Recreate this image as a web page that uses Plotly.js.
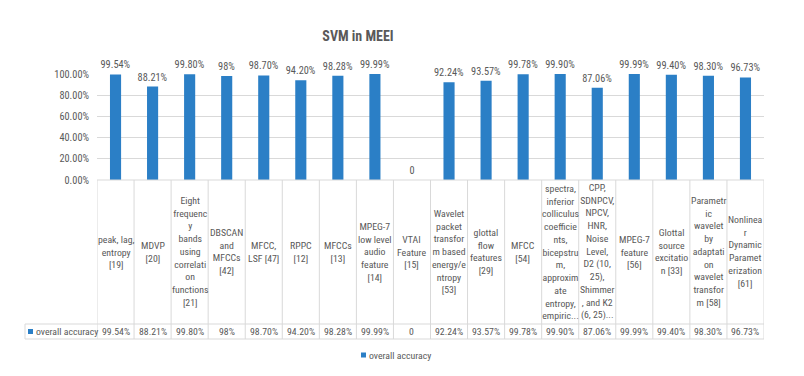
<!DOCTYPE html>
<html>
<head>
<meta charset="utf-8">
<script src="https://cdn.plot.ly/plotly-3.0.1.min.js"></script>
<style>html,body{margin:0;padding:0;background:#fff;}#chart{width:804px;height:376px;}</style>
</head>
<body>
<div id="chart"></div>
<script>
const categories = [
  'peak, lag,<br>entropy<br>[19]',
  'MDVP<br>[20]',
  'Eight<br>frequenc<br>y<br>bands<br>using<br>correlati<br>on<br>functions<br>[21]',
  'DBSCAN<br>and<br>MFCCs<br>[42]',
  'MFCC,<br>LSF [47]',
  'RPPC<br>[12]',
  'MFCCs<br>[13]',
  'MPEG-7<br>low level<br>audio<br>feature<br>[14]',
  'VTAI<br>Feature<br>[15]',
  'Wavelet<br>packet<br>transfor<br>m based<br>energy/e<br>ntropy<br>[53]',
  'glottal<br>flow<br>features<br>[29]',
  'MFCC<br>[54]',
  'spectra,<br>inferior<br>colliculus<br>coefficie<br>nts,<br>bicepstru<br>m,<br>approxim<br>ate<br>entropy,<br>empiric...',
  'CPP,<br>SDNPCV,<br>NPCV,<br>HNR,<br>Noise<br>Level,<br>D2 (10,<br>25),<br>Shimmer<br>, and K2<br>(6, 25)...',
  'MPEG-7<br>feature<br>[56]',
  'Glottal<br>source<br>excitatio<br>n [33]',
  'Parametr<br>ic<br>wavelet<br>by<br>adaptati<br>on<br>wavelet<br>transfor<br>m [58]',
  'Nonlinea<br>r<br>Dynamic<br>Paramet<br>erization<br>[61]'
];
const accuracy = [0.9954, 0.8821, 0.9980, 0.98, 0.9870, 0.9420, 0.9828, 0.9999, 0, 0.9224, 0.9357, 0.9978, 0.9990, 0.8706, 0.9999, 0.9940, 0.9830, 0.9673];
const valueLabels = ['99.54%','88.21%','99.80%','98%','98.70%','94.20%','98.28%','99.99%','0','92.24%','93.57%','99.78%','99.90%','87.06%','99.99%','99.40%','98.30%','96.73%'];
const seriesName = 'overall accuracy';
const chartTitle = 'SVM in MEEI';
const yTickVals = [0, 0.2, 0.4, 0.6, 0.8, 1.0];

const FONT = 'Roboto Condensed, Roboto, sans-serif';
const GRAY = '#595959';
const LINE = '#d9d9d9';
const BLUE = '#2B7FC6';

// layout geometry (pixels)
const W = 804, HT = 376;
const M = {l: 97, r: 40, t: 74, b: 196};
const H = HT - M.t - M.b;
const PW = W - M.l - M.r;
const plotBottom = HT - M.b;
const py = p => (plotBottom - p) / H;   // pixel y -> paper y
const pxX = p => (p - M.l) / PW;        // pixel x -> paper x
const headerTop = plotBottom, headerBottom = 324, rowBottom = 339, tableLeftPx = 25;

const xs = categories.map((_, i) => i);
const n = categories.length;

const shapes = [];
shapes.push({type:'line', xref:'x', yref:'paper', x0:-0.5, x1:n-0.5, y0:py(headerTop), y1:py(headerTop), line:{color:LINE, width:1}});
[headerBottom, rowBottom].forEach(p => shapes.push({type:'line', xref:'paper', yref:'paper', x0:pxX(tableLeftPx), x1:1, y0:py(p), y1:py(p), line:{color:LINE, width:1}}));
for (let i = 0; i <= n; i++) {
  shapes.push({type:'line', xref:'x', yref:'paper', x0:i-0.5, x1:i-0.5, y0:py(headerTop), y1:py(rowBottom), line:{color:LINE, width:1}});
}
shapes.push({type:'line', xref:'paper', yref:'paper', x0:pxX(tableLeftPx), x1:pxX(tableLeftPx), y0:py(headerBottom), y1:py(rowBottom), line:{color:LINE, width:1}});
// legend keys (table row + bottom legend)
shapes.push({type:'rect', xref:'paper', yref:'paper', x0:pxX(28), x1:pxX(33), y0:py(329), y1:py(334), fillcolor:BLUE, line:{width:0}});
shapes.push({type:'rect', xref:'paper', yref:'paper', x0:pxX(361), x1:pxX(366), y0:py(352.5), y1:py(357.5), fillcolor:BLUE, line:{width:0}});

const annotations = [];
categories.forEach((c, i) => {
  annotations.push({x:i, xref:'x', y:py((headerTop+headerBottom)/2), yref:'paper', text:c, showarrow:false,
    xanchor:'center', yanchor:'middle', align:'center', font:{family:FONT, size:9.8, color:GRAY}});
  annotations.push({x:i, xref:'x', y:py((headerBottom+rowBottom)/2), yref:'paper', text:valueLabels[i], showarrow:false,
    xanchor:'center', yanchor:'middle', font:{family:FONT, size:9.8, color:GRAY}});
});
annotations.push({x:pxX(34), xref:'paper', y:py((headerBottom+rowBottom)/2), yref:'paper', text:seriesName, showarrow:false,
  xanchor:'left', yanchor:'middle', font:{family:FONT, size:9.8, color:GRAY}});
annotations.push({x:pxX(367), xref:'paper', y:py(355), yref:'paper', text:seriesName, showarrow:false,
  xanchor:'left', yanchor:'middle', font:{family:FONT, size:9.8, color:GRAY}});

const trace = {
  type:'bar', x:xs, y:accuracy, name:seriesName, marker:{color:BLUE},
  text:valueLabels, textposition:'outside', cliponaxis:false, constraintext:'none',
  textfont:{family:FONT, size:10.3, color:GRAY},
  hovertext:categories.map(c => c.replace(/<br>/g,' ')), hoverinfo:'text+y'
};

const layout = {
  width:W, height:HT, margin:M,
  paper_bgcolor:'#fff', plot_bgcolor:'#fff',
  title:{text:'<b>'+chartTitle+'</b>', font:{family:FONT, size:14, color:GRAY}, x:358/W, xanchor:'center', y:1-36/HT, yanchor:'middle'},
  bargap:0.7,
  showlegend:false,
  xaxis:{range:[-0.5, n-0.5], showticklabels:false, showgrid:false, zeroline:false, showline:false, ticks:'', fixedrange:true},
  yaxis:{range:[0, 1], tickvals:yTickVals, tickformat:'.2%', showgrid:true, gridcolor:LINE, gridwidth:1, zeroline:false, showline:false, ticks:'',
    ticklabelstandoff:7, tickfont:{family:FONT, size:10.3, color:GRAY}, fixedrange:true},
  shapes:shapes, annotations:annotations
};

Plotly.newPlot('chart', [trace], layout, {displayModeBar:false, staticPlot:true});
</script>
</body>
</html>
